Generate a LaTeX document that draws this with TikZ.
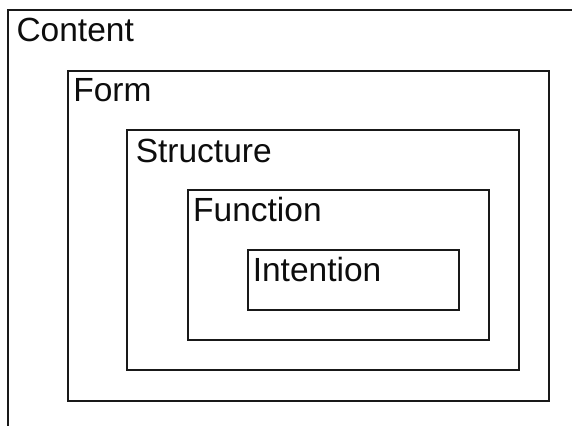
\documentclass[tikz,border=0pt]{standalone}
\usepackage{fontspec}
\setmainfont{Liberation Sans}
\usetikzlibrary{calc}
\begin{document}
\begin{tikzpicture}[x=1bp,y=-1bp,
  boxline/.style={line width=1.6bp, draw=black!90},
  layer/.style={boxline, rectangle, inner sep=0pt, outer sep=0pt},
  lbl/.style={anchor=base west, inner sep=0pt, outer sep=0pt, font=\fontsize{33.5bp}{39bp}\selectfont, text=black!95}]
\useasboundingbox (0,0) rectangle (572,426);
% outer (clipped) Content frame
\coordinate (cnw) at (8,10);
\coordinate (cne) at (572,10);
\coordinate (csw) at (8,426);
\draw[boxline] (cne) -- (cnw) -- (csw);
\node[lbl] (content) at ($(cnw)+(8.5,31.7)$) {Content};
% nested boxes
\node[layer, minimum width=481bp, minimum height=330bp] (form) at (308.5,236) {};
\node[layer, minimum width=392bp, minimum height=240bp] (structure) at (323,250) {};
\node[layer, minimum width=301bp, minimum height=150bp] (function) at (338.5,265) {};
\node[layer, minimum width=211bp, minimum height=60bp] (intention) at (353.5,280) {};
\node[lbl] (formlbl) at ($(form.north west)+(5.3,30.7)$) {Form};
\node[lbl] (structurelbl) at ($(structure.north west)+(8.8,32.3)$) {Structure};
\node[lbl] (functionlbl) at ($(function.north west)+(5.2,31.7)$) {Function};
\node[lbl] (intentionlbl) at ($(intention.north west)+(4.8,31)$) {Intention};
\end{tikzpicture}
\end{document}
